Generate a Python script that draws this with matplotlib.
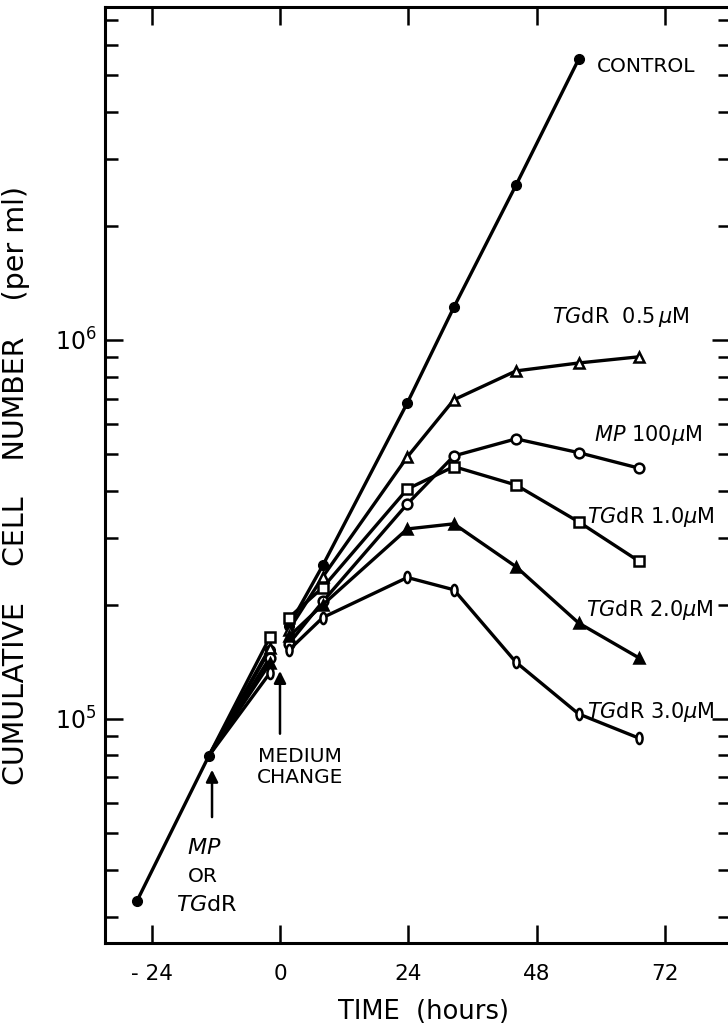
import numpy as np
import matplotlib.pyplot as plt
from matplotlib.path import Path
from matplotlib.transforms import Affine2D
from matplotlib.ticker import LogLocator, NullFormatter

plt.rcParams['font.family'] = 'DejaVu Sans'
plt.rcParams['mathtext.fontset'] = 'dejavusans'

# sampling times (hours); drug added at about -13 h, medium changed at 0 h
t_pre = [-26.7, -13.3, -1.9]
t_post = [1.7, 8.0, 23.8, 32.5, 44.1, 55.8, 67.0]

# control culture (no 67 h point)
control_pre = [3.31e4, 7.98e4, 1.52e5]
control_post = [1.76e5, 2.54e5, 6.82e5, 1.22e6, 2.56e6, 5.5e6]

# treated cultures: first value is the -2 h count, then one per t_post
tgdr_05 = [1.54e5, 1.72e5, 2.37e5, 4.91e5, 6.95e5, 8.28e5, 8.69e5, 9.02e5]
mp_100 = [1.45e5, 1.58e5, 2.04e5, 3.69e5, 4.94e5, 5.48e5, 5.04e5, 4.59e5]
tgdr_10 = [1.64e5, 1.85e5, 2.22e5, 4.04e5, 4.63e5, 4.14e5, 3.31e5, 2.61e5]
tgdr_20 = [1.40e5, 1.65e5, 2.00e5, 3.17e5, 3.27e5, 2.52e5, 1.79e5, 1.45e5]
tgdr_30 = [1.32e5, 1.52e5, 1.85e5, 2.36e5, 2.19e5, 1.41e5, 1.03e5, 8.9e4]

x_ticks = [-24, 0, 24, 48, 72]
x_ticklabels = ['- 24', '0', '24', '48', '72']

LW = 2.4
narrow_o = Affine2D().scale(0.55, 1.0).transform_path(Path.unit_circle())

fig = plt.figure(figsize=(7.28, 10.31), dpi=100)
ax = fig.add_axes([105 / 728, 1 - 943 / 1031, 624.5 / 728, 936 / 1031])
ax.set_yscale('log')

# control
ax.plot(t_pre, control_pre, 'k-', lw=LW, marker='o', ms=7)
ax.plot(t_post[:6], control_post, 'k-', lw=LW, marker='o', ms=7)

treated = [
    (tgdr_05, '^', 'white', 7),
    (mp_100, 'o', 'white', 7),
    (tgdr_10, 's', 'white', 7),
    (tgdr_20, '^', 'black', 7),
    (tgdr_30, narrow_o, 'white', 8),
]
for vals, mk, face, ms in treated:
    ax.plot([t_pre[1], t_pre[2]], [control_pre[1], vals[0]], 'k-', lw=LW,
            zorder=2)
    ax.plot(t_pre[2], vals[0], ls='none', marker=mk, ms=ms, mfc=face,
            mec='k', mew=1.8, zorder=3)
    ax.plot(t_post, vals[1:], 'k-', lw=LW, marker=mk, ms=ms, mfc=face,
            mec='k', mew=1.8, zorder=3)

# curve labels
ax.text(59.2, 5.28e6, 'CONTROL', fontsize=14.5, va='center', ha='left')
ax.text(50.8, 1.15e6, r'$\mathit{TG}$dR  0.5$\,\mu$M', fontsize=15,
        va='center', ha='left')
ax.text(58.6, 5.61e5, r'$\mathit{MP}$ 100$\mu$M', fontsize=15,
        va='center', ha='left')
ax.text(57.3, 3.41e5, r'$\mathit{TG}$dR 1.0$\mu$M', fontsize=15,
        va='center', ha='left')
ax.text(57.2, 1.94e5, r'$\mathit{TG}$dR 2.0$\mu$M', fontsize=15,
        va='center', ha='left')
ax.text(57.3, 1.04e5, r'$\mathit{TG}$dR 3.0$\mu$M', fontsize=15,
        va='center', ha='left')

# event arrows
arrow = dict(arrowstyle='-|>', lw=1.8, color='k', mutation_scale=18)
ax.annotate('', xy=(-12.7, 7.46e4), xytext=(-12.7, 5.41e4), arrowprops=arrow)
ax.text(-14.2, 4.57e4, r'$\mathit{MP}$', fontsize=16, ha='center', va='center')
ax.text(-14.4, 3.83e4, 'OR', fontsize=14.5, ha='center', va='center')
ax.text(-13.6, 3.23e4, r'$\mathit{TG}$dR', fontsize=16, ha='center',
        va='center')
ax.annotate('', xy=(0, 1.36e5), xytext=(0, 8.98e4), arrowprops=arrow)
ax.text(3.7, 7.94e4, 'MEDIUM', fontsize=14.5, ha='center', va='center')
ax.text(3.7, 6.99e4, 'CHANGE', fontsize=14.5, ha='center', va='center')

ax.set_xlim(-32.7, 84)
ax.set_ylim(2.56e4, 7.56e6)
ax.set_xticks(x_ticks)
ax.set_xticklabels(x_ticklabels)
ax.yaxis.set_major_locator(LogLocator(base=10))
ax.yaxis.set_minor_locator(LogLocator(base=10, subs=np.arange(2, 10)))
ax.yaxis.set_minor_formatter(NullFormatter())

ax.tick_params(which='both', direction='in', top=True, right=True,
               width=1.8)
ax.tick_params(which='major', length=13)
ax.tick_params(which='minor', length=9)
ax.tick_params(axis='x', pad=15, labelsize=15.5)
ax.tick_params(axis='y', pad=6, labelsize=17)
for s in ax.spines.values():
    s.set_linewidth(2.2)

ax.set_ylabel('CUMULATIVE    CELL    NUMBER    (per ml)', fontsize=20.5)
ax.yaxis.set_label_coords((30 - 105) / 624.5, 1 - (486 - 7) / 936)
ax.set_xlabel('TIME  (hours)', fontsize=18.5, va='center')
ax.xaxis.set_label_coords((423 - 105) / 624.5, (943 - 1012) / 936)

fig.savefig('out.png', dpi=100)
